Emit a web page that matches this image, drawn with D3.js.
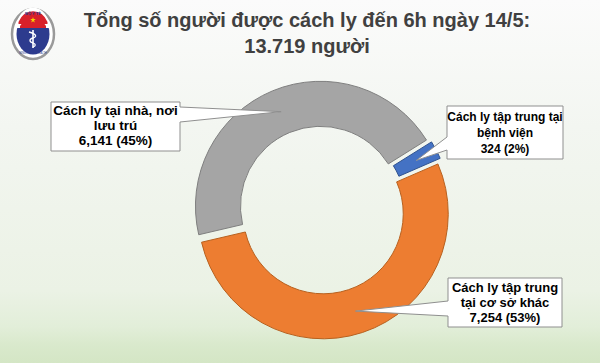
<!DOCTYPE html>
<html>
<head>
<meta charset="utf-8">
<script src="https://cdn.jsdelivr.net/npm/d3@7"></script>
<style>
  html, body { margin: 0; padding: 0; }
  body { width: 600px; height: 363px; overflow: hidden; }
  text { font-family: "Liberation Sans", Arial, sans-serif; }
</style>
</head>
<body>
<figure id="donut" style="margin:0"></figure>
<script>
// data
const labels = ["Cách ly tập trung tại bệnh viện", "Cách ly tập trung tại cơ sở khác", "Cách ly tại nhà, nơi lưu trú"];
const values = [324, 7254, 6141];
const percents = ["2%", "53%", "45%"];
const colors = ["#4472c4", "#ed7d31", "#a5a5a5"];
const strokes = ["#2f528f", "#b8611f", "#7f7f7f"];
const title1 = "Tổng số người được cách ly đến 6h ngày 14/5:";
const title2 = "13.719 người";

const width = 600, height = 363;
const cx = 322, cy = 210;
const outerR = 125, innerR = 80;
const explode = 4;

const svg = d3.select("figure#donut")
  .append("svg")
  .attr("width", width)
  .attr("height", height);

// background
const defs = svg.append("defs");
const grad = defs.append("linearGradient")
  .attr("id", "bg").attr("x1", 0).attr("y1", 0).attr("x2", 0).attr("y2", 1);
[[0, "#fbfbfb"], [0.35, "#f3f6f1"], [0.8, "#ebf2e5"], [0.9, "#e2eed9"], [0.95, "#d9e9cc"], [1, "#d4e6c5"]]
  .forEach(s => grad.append("stop").attr("offset", s[0]).attr("stop-color", s[1]));
svg.append("rect").attr("width", width).attr("height", height).attr("fill", "url(#bg)");

// logo (decoration)
const logo = svg.append("g").attr("transform", "translate(33,34)");
logo.append("ellipse").attr("rx", 21).attr("ry", 25).attr("fill", "#fff").attr("stroke", "#9a9a9a").attr("stroke-width", 2.5);
logo.append("ellipse").attr("rx", 16.5).attr("ry", 20.5).attr("fill", "#2d3b8e");
logo.append("path")
  .attr("d", "M-16.5,-6 A16.5,20.5 0 0 1 16.5,-6 Z")
  .attr("fill", "#fff");
logo.append("path")
  .attr("d", "M-13,-8 A16.5,20.5 0 0 1 13,-8 L13,-6 L-13,-6 Z")
  .attr("fill", "#d8202a");
logo.append("path")
  .attr("d", "M-14.5,-12 A16.5,20.5 0 0 1 14.5,-12 L14.5,-10 L-14.5,-10 Z")
  .attr("fill", "#d8202a");
logo.append("path")
  .attr("d", d3.symbol(d3.symbolStar, 10)())
  .attr("transform", "translate(0,-14)")
  .attr("fill", "#f6d200");
logo.append("line").attr("x1", 0).attr("y1", -4).attr("x2", 0).attr("y2", 14)
  .attr("stroke", "#fff").attr("stroke-width", 1.6);
logo.append("path")
  .attr("d", "M-4,-2 C4,0 4,3 0,4 C-4,5 -4,8 0,9 C3,10 3,12 0,13")
  .attr("fill", "none").attr("stroke", "#fff").attr("stroke-width", 1.3);
logo.append("text").attr("y", -19).attr("text-anchor", "middle")
  .attr("font-size", 4).attr("font-weight", "bold").attr("fill", "#2d3b8e").text("BỘ Y TẾ");
logo.append("text").attr("y", 20).attr("text-anchor", "middle")
  .attr("font-size", 2.6).attr("fill", "#2d3b8e").text("MINISTRY OF HEALTH");

// title
svg.append("text")
  .attr("x", 307).attr("y", 27)
  .attr("text-anchor", "middle")
  .attr("font-size", 20).attr("font-weight", "bold")
  .attr("fill", "#404040")
  .text(title1);
svg.append("text")
  .attr("x", 307).attr("y", 53)
  .attr("text-anchor", "middle")
  .attr("font-size", 20).attr("font-weight", "bold")
  .attr("fill", "#404040")
  .text(title2);

// donut
const startA = 58 * Math.PI / 180;
const pie = d3.pie().sort(null).startAngle(startA).endAngle(startA + 2 * Math.PI);
const arcs = pie(values);
const arc = d3.arc().innerRadius(innerR).outerRadius(outerR);

function offset(d) {
  const m = (d.startAngle + d.endAngle) / 2;
  return [explode * Math.sin(m), -explode * Math.cos(m)];
}

const chart = svg.append("g").attr("transform", `translate(${cx},${cy})`);
chart.selectAll(".slice")
  .data(arcs)
  .enter()
  .append("path")
  .attr("class", "slice")
  .attr("transform", d => { const o = offset(d); return `translate(${o[0]},${o[1]})`; })
  .attr("d", arc)
  .attr("fill", (d, i) => colors[i])
  .attr("stroke", (d, i) => strokes[i])
  .attr("stroke-width", 1);

// callouts
const fmt = d3.format(",");
const boxes = [
  { x: 447, y: 106, w: 116, h: 53, side: "left", a1: 137, a2: 150, size: 12, lines: ["Cách ly tập trung tại", "bệnh viện", fmt(values[0]) + "  (" + percents[0] + ")"], y0: 121, dy: 16 },
  { x: 448, y: 278, w: 114, h: 49, side: "left", a1: 301, a2: 316, size: 13, lines: ["Cách ly tập trung", "tại cơ sở khác", fmt(values[1]) + "  (" + percents[1] + ")"], y0: 292, dy: 15 },
  { x: 51, y: 102, w: 129, h: 49, side: "right", a1: 107, a2: 122, size: 13.5, lines: ["Cách ly tại nhà, nơi", "lưu trú", fmt(values[2]) + " (" + percents[2] + ")"], y0: 115, dy: 15 }
];

function calloutPath(b, tip) {
  if (b.side === "right") {
    return `M${b.x},${b.y}H${b.x + b.w}V${b.a1}L${tip[0]},${tip[1]}L${b.x + b.w},${b.a2}V${b.y + b.h}H${b.x}Z`;
  }
  return `M${b.x},${b.y}H${b.x + b.w}V${b.y + b.h}H${b.x}V${b.a2}L${tip[0]},${tip[1]}L${b.x},${b.a1}Z`;
}

arcs.forEach((d, i) => {
  const b = boxes[i];
  const c = arc.centroid(d);
  const o = offset(d);
  const tip = [cx + c[0] + o[0], cy + c[1] + o[1]];
  svg.append("path")
    .attr("d", calloutPath(b, tip))
    .attr("fill", "#fff")
    .attr("stroke", "#8f8f8f")
    .attr("stroke-width", 1);
  const t = svg.append("text")
    .attr("text-anchor", "middle")
    .attr("font-size", b.size)
    .attr("font-weight", "bold")
    .attr("fill", "#000");
  b.lines.forEach((l, k) => {
    t.append("tspan").attr("x", b.x + b.w / 2).attr("y", b.y0 + k * b.dy).text(l);
  });
});
</script>
</body>
</html>
